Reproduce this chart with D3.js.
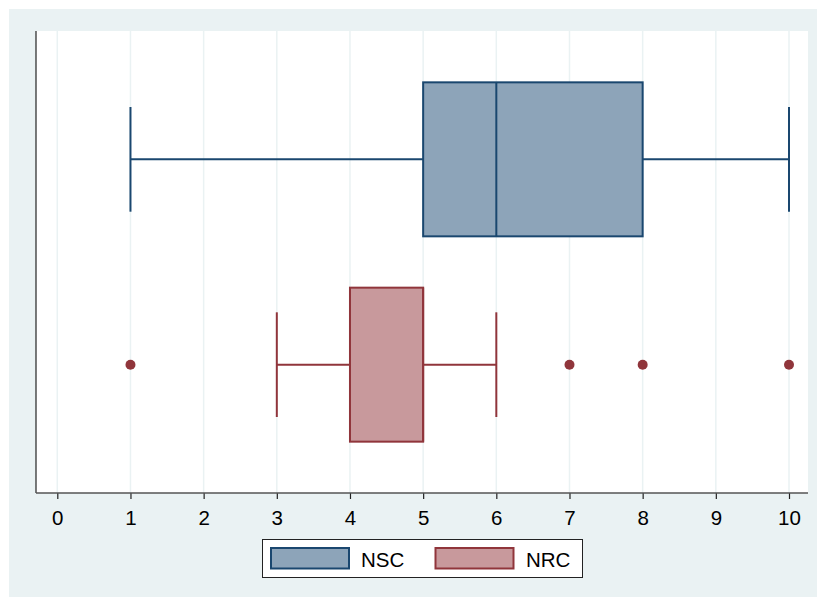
<!DOCTYPE html>
<html>
<head>
<meta charset="utf-8">
<script src="https://cdn.jsdelivr.net/npm/d3@7"></script>
<style>
  html, body { margin: 0; padding: 0; background: #ffffff; }
  svg { display: block; }
  text { font-family: Arial, "Liberation Sans", sans-serif; }
</style>
</head>
<body>
<svg id="chart" width="817" height="597"></svg>
<script>
// ---- data ----
const groups = ["NSC", "NRC"];
const whiskerLow = [1, 3];
const q1 = [5, 4];
const medians = [6, 5];
const q3 = [8, 5];
const whiskerHigh = [10, 6];
const outliers = [[], [1, 7, 8, 10]];
const tickValues = [0, 1, 2, 3, 4, 5, 6, 7, 8, 9, 10];
const strokeColors = ["#1a476f", "#90353b"];
const fillColors = ["#8da4b9", "#c8999c"];

// ---- layout ----
const svg = d3.select("#chart");
const W = 817, H = 597;
const plot = { left: 36, top: 31, right: 808, bottom: 493 };

svg.append("rect").attr("x", 9).attr("y", 9).attr("width", W - 9).attr("height", H - 9)
  .attr("fill", "#eaf2f3");
svg.append("rect").attr("x", plot.left).attr("y", plot.top)
  .attr("width", plot.right - plot.left).attr("height", plot.bottom - plot.top)
  .attr("fill", "#ffffff");

const x = d3.scaleLinear().domain([0, 10]).range([57.3, 789]);
const y = d3.scalePoint().domain(groups).range([plot.top, plot.bottom]).padding(0.625);
const step = y.step();
const boxH = step * 0.75;
const capH = step * 0.51;

// gridlines
svg.append("g").selectAll("line").data(tickValues).join("line")
  .attr("x1", d => x(d)).attr("x2", d => x(d))
  .attr("y1", plot.top).attr("y2", plot.bottom)
  .attr("stroke", "#eaf2f3").attr("stroke-width", 1.5);

// boxes
const data = groups.map((g, i) => ({
  g, i, lo: whiskerLow[i], q1: q1[i], med: medians[i], q3: q3[i], hi: whiskerHigh[i], out: outliers[i]
}));

const bg = svg.append("g").selectAll("g").data(data).join("g");
bg.each(function(d) {
  const s = d3.select(this);
  const cy = y(d.g);
  const sc = strokeColors[d.i], fc = fillColors[d.i];
  s.append("line").attr("x1", x(d.lo)).attr("x2", x(d.q1)).attr("y1", cy).attr("y2", cy)
    .attr("stroke", sc).attr("stroke-width", 2);
  s.append("line").attr("x1", x(d.q3)).attr("x2", x(d.hi)).attr("y1", cy).attr("y2", cy)
    .attr("stroke", sc).attr("stroke-width", 2);
  [d.lo, d.hi].forEach(v => {
    s.append("line").attr("x1", x(v)).attr("x2", x(v))
      .attr("y1", cy - capH / 2).attr("y2", cy + capH / 2)
      .attr("stroke", sc).attr("stroke-width", 2);
  });
  s.append("rect").attr("x", x(d.q1)).attr("y", cy - boxH / 2)
    .attr("width", x(d.q3) - x(d.q1)).attr("height", boxH)
    .attr("fill", fc).attr("stroke", sc).attr("stroke-width", 2);
  s.append("line").attr("x1", x(d.med)).attr("x2", x(d.med))
    .attr("y1", cy - boxH / 2).attr("y2", cy + boxH / 2)
    .attr("stroke", sc).attr("stroke-width", 2);
  s.selectAll("circle").data(d.out).join("circle")
    .attr("cx", v => x(v)).attr("cy", cy).attr("r", 5)
    .attr("fill", sc);
});

// axes
svg.append("line").attr("x1", plot.left).attr("x2", plot.left)
  .attr("y1", plot.top).attr("y2", plot.bottom).attr("stroke", "#222").attr("stroke-width", 1.2);
const xAxis = svg.append("g").attr("transform", `translate(0,${plot.bottom})`)
  .call(d3.axisBottom(x).tickValues(tickValues).tickFormat(d3.format("d")).tickSize(6).tickSizeOuter(0));
xAxis.select(".domain").remove();
svg.append("line").attr("x1", plot.left).attr("x2", plot.right)
  .attr("y1", plot.bottom).attr("y2", plot.bottom).attr("stroke", "#555").attr("stroke-width", 1.5);
xAxis.selectAll(".tick line").attr("stroke", "#222").attr("stroke-width", 1.2);
xAxis.selectAll(".tick text").attr("font-size", "20.5px").attr("fill", "#000")
  .attr("y", 32).attr("dy", "0");

// legend
const leg = svg.append("g");
leg.append("rect").attr("x", 262.5).attr("y", 539.5).attr("width", 320).attr("height", 38)
  .attr("fill", "#ffffff").attr("stroke", "#222").attr("stroke-width", 1);
const legX = [271, 435.5];
const legTextX = [361, 526];
groups.forEach((g, i) => {
  leg.append("rect").attr("x", legX[i]).attr("y", 548).attr("width", 78).attr("height", 20.5)
    .attr("fill", fillColors[i]).attr("stroke", strokeColors[i]).attr("stroke-width", 2);
  leg.append("text").attr("x", legTextX[i]).attr("y", 566.5).attr("font-size", "20.5px")
    .attr("fill", "#000").text(g);
});
</script>
</body>
</html>
